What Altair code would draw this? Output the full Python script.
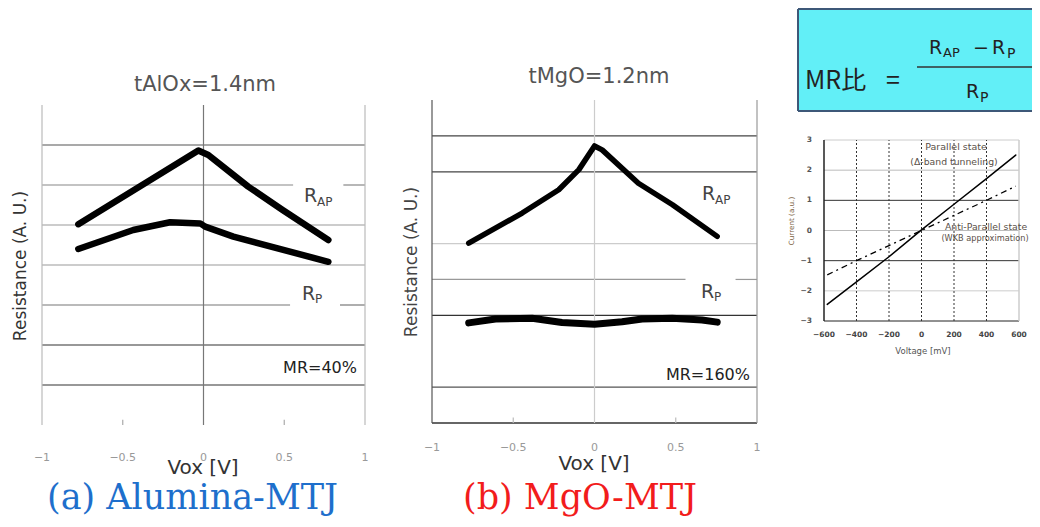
import altair as alt
import pandas as pd

OFF = 8            # page margin
W, H = 1024, 511   # drawing size (fits the 1040x527 window exactly)

# ---------------- data ----------------
# (a) Alumina-MTJ : Vox [V] vs Resistance (A. U.)
a_rap_v = [-0.775, -0.032, 0.03, 0.277, 0.49, 0.773]
a_rap_r = [5.02, 6.86, 6.75, 5.96, 5.375, 4.625]
a_rp_v = [-0.775, -0.435, -0.207, -0.02, 0.01, 0.185, 0.773]
a_rp_r = [4.40, 4.875, 5.07, 5.04, 4.96, 4.71, 4.08]

# (b) MgO-MTJ
b_rap_v = [-0.774, -0.445, -0.22, -0.096, 0.0, 0.047, 0.27, 0.48, 0.755]
b_rap_r = [5.01, 5.85, 6.5, 7.06, 7.72, 7.61, 6.68, 6.08, 5.2]
b_rp_v = [-0.774, -0.609, -0.384, -0.2, 0.0, 0.17, 0.293, 0.478, 0.662, 0.755]
b_rp_r = [2.79, 2.9, 2.92, 2.8, 2.75, 2.82, 2.9, 2.92, 2.87, 2.81]

# I-V inset : Voltage [mV] vs Current (a.u.)
iv_v = [-580, -400, -200, 0, 200, 400, 580]
iv_par = [-2.45, -1.7, -0.87, 0.02, 0.87, 1.72, 2.5]
iv_anti = [-1.47, -1.0, -0.5, 0.0, 0.5, 1.0, 1.47]

# ticks
vox_ticks = [-1, -0.5, 0, 0.5, 1]
vox_labels = ["\u22121", "\u22120.5", "0", "0.5", "1"]
iv_xticks = [-600, -400, -200, 0, 200, 400, 600]
iv_xlabels = ["\u2212600", "\u2212400", "\u2212200", "0", "200", "400", "600"]
iv_yticks = [3, 2, 1, 0, -1, -2, -3]
iv_ylabels = ["3", "2", "1", "0", "\u22121", "\u22122", "\u22123"]

# grid levels
a_grid_y = [7, 6, 5, 4, 3, 2, 1]
a_grid_c = ["#555", "#888", "#999", "#999", "#777", "#333", "#333"]
a_grid_gaps = {6: (0.555, 0.866), 3: (0.536, 0.845)}
b_grid_y = [8, 7, 5, 4, 3, 1]
b_grid_c = ["#444", "#444", "#ccc", "#999", "#333", "#555"]
b_grid_gaps = {4: (0.56, 0.868)}
iv_grid_y = [3, 2, 1, 0, -1, -2, -3]
iv_grid_c = ["#ccc", "#bbb", "#333", "#bbb", "#333", "#ccc", "#222"]
iv_vdots = [-400, -200, 0, 200, 400]

# ---------------- scales (each panel its own coordinate system) ----------------
def S(dom, rng):
    return alt.Scale(domain=dom, range=[r - OFF for r in rng], nice=False, zero=False)

s1x, s1y = S([-1, 1], [42, 365]), S([0, 8], [425, 105])
s2x, s2y = S([-1, 1], [432, 757]), S([0, 9], [423, 100])
s3x, s3y = S([-600, 600], [824, 1019]), S([-3, 3], [321, 140])

layers = []


def hsegs(levels, colors, gaps, x0, x1):
    rows = []
    for lv, c in zip(levels, colors):
        if lv in gaps:
            g0, g1 = gaps[lv]
            rows.append(dict(x=x0, x2=g0, y=lv, c=c))
            rows.append(dict(x=g1, x2=x1, y=lv, c=c))
        else:
            rows.append(dict(x=x0, x2=x1, y=lv, c=c))
    return pd.DataFrame(rows)


def hrules(df, sx, sy, w=1.0, dash=None):
    kw = dict(strokeWidth=w)
    if dash:
        kw["strokeDash"] = dash
    return alt.Chart(df).mark_rule(**kw).encode(
        x=alt.X("x:Q", scale=sx, axis=None), x2="x2:Q",
        y=alt.Y("y:Q", scale=sy, axis=None), color=alt.Color("c:N", scale=None))


def vrules(df, sx, sy, w=1.0, dash=None):
    kw = dict(strokeWidth=w)
    if dash:
        kw["strokeDash"] = dash
    return alt.Chart(df).mark_rule(**kw).encode(
        x=alt.X("x:Q", scale=sx, axis=None),
        y=alt.Y("y:Q", scale=sy, axis=None), y2="y2:Q", color=alt.Color("c:N", scale=None))


def curve(vs, rs, sx, sy, w=6.0, dash=None, color="black"):
    df = pd.DataFrame({"x": vs, "y": rs, "i": range(len(vs))})
    kw = dict(color=color, strokeWidth=w, strokeCap="round", strokeJoin="round")
    if dash:
        kw["strokeDash"] = dash
        kw["strokeCap"] = "butt"
    return alt.Chart(df).mark_line(**kw).encode(
        x=alt.X("x:Q", scale=sx, axis=None), y=alt.Y("y:Q", scale=sy, axis=None), order="i:Q")


def label(text, x, y, size, color="#333", font="DejaVu Sans", align="center",
          baseline="middle", angle=None, weight="normal"):
    kw = dict(align=align, baseline=baseline, fontSize=size, color=color, font=font, fontWeight=weight)
    if angle is not None:
        kw["angle"] = angle
    return alt.Chart(pd.DataFrame({"t": [text]})).mark_text(**kw).encode(
        x=alt.value(x - OFF), y=alt.value(y - OFF), text="t:N")


def xticklabels(vals, labs, sx, py, size, color, weight="normal"):
    df = pd.DataFrame({"v": vals, "t": labs})
    return alt.Chart(df).mark_text(fontSize=size, color=color, font="DejaVu Sans", baseline="middle",
                                   fontWeight=weight).encode(
        x=alt.X("v:Q", scale=sx, axis=None), y=alt.value(py - OFF), text="t:N")


def yticklabels(vals, labs, sy, px, size, color, weight="normal"):
    df = pd.DataFrame({"v": vals, "t": labs})
    return alt.Chart(df).mark_text(fontSize=size, color=color, font="DejaVu Sans", align="right",
                                   baseline="middle", fontWeight=weight).encode(
        y=alt.Y("v:Q", scale=sy, axis=None), x=alt.value(px - OFF), text="t:N")


def prule(x, x2, y, y2=None, color="#333", w=1.5):
    enc = dict(x=alt.value(x - OFF), y=alt.value(y - OFF))
    if x2 is not None:
        enc["x2"] = alt.value(x2 - OFF)
    if y2 is not None:
        enc["y2"] = alt.value(y2 - OFF)
    return alt.Chart(pd.DataFrame({"a": [0]})).mark_rule(color=color, strokeWidth=w).encode(**enc)


# ---------------- formula box ----------------
box = alt.Chart(pd.DataFrame({"a": [0]})).mark_rect(fill="#62eff7").encode(
    x=alt.value(798 - OFF), x2=alt.value(W), y=alt.value(9 - OFF), y2=alt.value(111 - OFF))
layers.append(box)
layers.append(prule(798, W + OFF, 9, color="#3e5878", w=2))
layers.append(prule(798, W + OFF, 111, color="#3e5878", w=2))
layers.append(prule(798, None, 9, 111, color="#3e5878", w=2))
layers.append(label("MR比", 805, 81, 25, color="#222", font="Noto Sans CJK JP", align="left"))
layers.append(label("=", 893, 81, 25, color="#222", font="Noto Sans CJK JP"))
layers.append(prule(917, W + OFF, 67, color="#333", w=1.5))
layers.append(label("R", 929, 54, 19, color="#222", align="left", baseline="alphabetic"))
layers.append(label("AP", 943, 57, 13, color="#222", align="left", baseline="alphabetic"))
layers.append(label("\u2212", 981, 48, 19, color="#222"))
layers.append(label("R", 992, 54, 19, color="#222", align="left", baseline="alphabetic"))
layers.append(label("P", 1007, 58, 14, color="#222", align="left", baseline="alphabetic"))
layers.append(label("R", 966, 98, 19, color="#222", align="left", baseline="alphabetic"))
layers.append(label("P", 980, 102, 14, color="#222", align="left", baseline="alphabetic"))

# ---------------- panel (a) ----------------
layers.append(hrules(hsegs(a_grid_y, a_grid_c, a_grid_gaps, -1, 1), s1x, s1y, 1.2))
layers.append(vrules(pd.DataFrame({"x": [-1, 0, 1], "y": [0, 0, 0], "y2": [8, 8, 8],
                                   "c": ["#bbb", "#777", "#bbb"]}), s1x, s1y, 1.2))
layers.append(vrules(pd.DataFrame({"x": [-0.5, 0.5], "y": [0, 0], "y2": [0.13, 0.13],
                                   "c": ["#aaa", "#aaa"]}), s1x, s1y, 1.2))
layers.append(curve(a_rap_v, a_rap_r, s1x, s1y, 6.5))
layers.append(curve(a_rp_v, a_rp_r, s1x, s1y, 6.5))
layers.append(xticklabels(vox_ticks, vox_labels, s1x, 458, 11, "#999"))
layers.append(label("tAlOx=1.4nm", 205, 85, 21, color="#555"))
layers.append(label("Vox [V]", 203, 468, 20, color="#333"))
layers.append(label("Resistance (A. U.)", 21, 266, 17, color="#333", angle=270))
layers.append(label("R", 304, 202, 19, color="#444", align="left", baseline="alphabetic"))
layers.append(label("AP", 317, 206, 12, color="#444", align="left", baseline="alphabetic"))
layers.append(label("R", 302, 300, 19, color="#444", align="left", baseline="alphabetic"))
layers.append(label("P", 315, 303, 12, color="#444", align="left", baseline="alphabetic"))
layers.append(label("MR=40%", 357, 368, 16, color="#222", align="right"))

# ---------------- panel (b) ----------------
layers.append(hrules(hsegs(b_grid_y, b_grid_c, b_grid_gaps, -1, 1), s2x, s2y, 1.2))
layers.append(hrules(pd.DataFrame({"x": [-1], "x2": [1], "y": [0], "c": ["#333"]}), s2x, s2y, 1.5))
layers.append(vrules(pd.DataFrame({"x": [-1, 0, 1], "y": [0, 0, 0], "y2": [9, 9, 9],
                                   "c": ["#555", "#ccc", "#999"]}), s2x, s2y, 1.2))
layers.append(vrules(pd.DataFrame({"x": [-0.5, 0.5], "y": [0, 0], "y2": [0.15, 0.15],
                                   "c": ["#bbb", "#bbb"]}), s2x, s2y, 1.2))
layers.append(curve(b_rap_v, b_rap_r, s2x, s2y, 5.5))
layers.append(curve(b_rp_v, b_rp_r, s2x, s2y, 7))
layers.append(xticklabels(vox_ticks, vox_labels, s2x, 448, 11, "#999"))
layers.append(label("tMgO=1.2nm", 599, 77, 21, color="#555"))
layers.append(label("Vox [V]", 594, 464, 20, color="#333"))
layers.append(label("Resistance (A. U.)", 412, 262, 17, color="#444", angle=270))
layers.append(label("R", 702, 200, 19, color="#444", align="left", baseline="alphabetic"))
layers.append(label("AP", 715, 204, 12, color="#444", align="left", baseline="alphabetic"))
layers.append(label("R", 701, 298, 19, color="#444", align="left", baseline="alphabetic"))
layers.append(label("P", 714, 301, 12, color="#444", align="left", baseline="alphabetic"))
layers.append(label("MR=160%", 750, 375, 16, color="#222", align="right"))

# ---------------- I-V inset ----------------
layers.append(hrules(pd.DataFrame({"x": [-600] * len(iv_grid_y), "x2": [600] * len(iv_grid_y),
                                   "y": iv_grid_y, "c": iv_grid_c}), s3x, s3y, 1.0))
layers.append(vrules(pd.DataFrame({"x": iv_vdots, "y": [-3] * 5, "y2": [3] * 5, "c": ["#333"] * 5}),
                     s3x, s3y, 1.0, dash=[2, 2]))
layers.append(vrules(pd.DataFrame({"x": [-600, 600], "y": [-3, -3], "y2": [3, 3], "c": ["#222", "#ccc"]}),
                     s3x, s3y, 1.5))
layers.append(curve(iv_v, iv_par, s3x, s3y, 1.5))
layers.append(curve(iv_v, iv_anti, s3x, s3y, 1.3, dash=[6, 4, 2, 4]))
layers.append(xticklabels(iv_xticks, iv_xlabels, s3x, 335, 7.5, "#444", weight="bold"))
layers.append(yticklabels(iv_yticks, iv_ylabels, s3y, 812, 7.5, "#555", weight="bold"))
layers.append(label("Voltage [mV]", 923, 351, 8.5, color="#555"))
layers.append(label("Current (a.u.)", 792, 221, 7.2, color="#7a6040", angle=270))
layers.append(label("Parallel state", 956, 147, 9.5, color="#5a5048"))
layers.append(label("(\u0394-band tunneling)", 954, 162, 9.3, color="#5a5048"))
layers.append(label("Anti-Parallel state", 986, 227, 9.3, color="#5a5048"))
layers.append(label("(WKB approximation)", 985, 239, 8.2, color="#5a5048"))

# ---------------- captions ----------------
layers.append(label("(a) Alumina-MTJ", 47, 509, 35, color="#1e6fcc", font="DejaVu Serif",
                    align="left", baseline="alphabetic"))
layers.append(label("(b) MgO-MTJ", 463, 509, 35, color="#f21c1c", font="DejaVu Serif",
                    align="left", baseline="alphabetic"))

chart = alt.layer(*layers).resolve_scale(x="independent", y="independent").properties(
    width=W, height=H, padding=0, autosize="none", background="white"
).configure_view(stroke=None)

chart.save("out.html", embed_options={"renderer": "svg", "actions": False})
